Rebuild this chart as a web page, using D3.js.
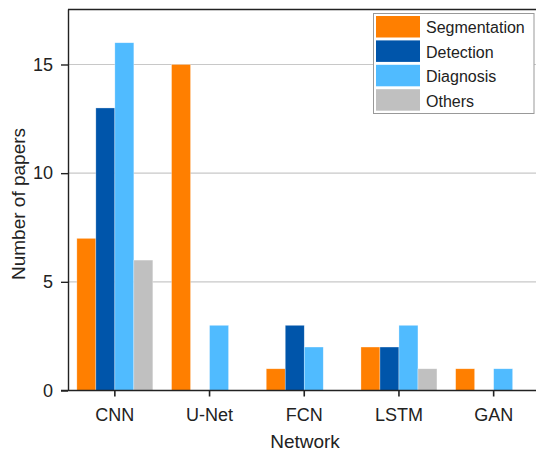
<!DOCTYPE html>
<html><head><meta charset="utf-8">
<script src="https://cdn.jsdelivr.net/npm/d3@7"></script>
<style>body{margin:0;background:#fff;overflow:hidden}text{font-family:"Liberation Sans",Arial,Helvetica,sans-serif;fill:#222}</style>
</head><body>
<svg id="c" width="536" height="451"></svg>
<script>
const categories = ["CNN","U-Net","FCN","LSTM","GAN"];
const seriesNames = ["Segmentation","Detection","Diagnosis","Others"];
const segmentation = [7,15,1,2,1];
const detection = [13,0,3,2,0];
const diagnosis = [16,3,2,3,1];
const others = [6,0,0,1,0];
const yTicks = [0,5,10,15];
const colors = ["#FF7F00","#0055AA","#50BBFF","#C0C0C0"];
const values = [segmentation, detection, diagnosis, others];

const svg = d3.select("#c");
const L=68,R=541,T=9.5,B=390.5;
const x = d3.scaleBand().domain(categories).range([L-0.5,R]).padding(0);
const xs = d3.scaleBand().domain(seriesNames).range([-38,38]).padding(0);
const y = d3.scaleLinear().domain([0,17.53]).range([B,T]);
const cx = c => x(c)+x.bandwidth()/2;

// gridlines
svg.append("g").selectAll("line").data(yTicks.filter(d=>d>0)).join("line")
  .attr("x1",L).attr("x2",R).attr("y1",d=>y(d)).attr("y2",d=>y(d))
  .attr("stroke","#c8c8c8").attr("stroke-width",1.2);

// bars
const g = svg.append("g");
seriesNames.forEach((s,si)=>{
  g.append("g").selectAll("rect").data(categories.map((c,i)=>({c,v:values[si][i]})).filter(d=>d.v>0)).join("rect")
    .attr("x",d=>cx(d.c)+xs(s)).attr("width",xs.bandwidth())
    .attr("y",d=>y(d.v)).attr("height",d=>y(0)-y(d.v))
    .attr("fill",colors[si]).attr("stroke","#fff").attr("stroke-opacity",0.5).attr("stroke-width",0.6);
});

// frame
svg.append("line").attr("x1",L).attr("x2",R).attr("y1",T).attr("y2",T).attr("stroke","#222").attr("stroke-width",1.4);

// axes
const yAxis = svg.append("g").attr("transform",`translate(${L},0)`)
  .call(d3.axisLeft(y).tickValues(yTicks).tickSize(7).tickPadding(8));
const xAxis = svg.append("g").attr("transform",`translate(0,${B})`)
  .call(d3.axisBottom(x).tickSize(6).tickPadding(12));
xAxis.select(".domain").attr("d",`M${L-7},0H${R}`);
yAxis.select(".domain").attr("d",`M0.5,${T}V${B}`);
[xAxis,yAxis].forEach(a=>{
  a.selectAll(".domain,line").attr("stroke","#222").attr("stroke-width",1.4);
  a.selectAll("text").attr("font-size",18).attr("fill","#222").style("font-family","Liberation Sans, Arial, sans-serif");
});
xAxis.selectAll(".tick line").attr("stroke-width",1.6);

svg.append("text").attr("x",305).attr("y",448).attr("text-anchor","middle").attr("font-size",19).text("Network");
svg.append("text").attr("transform",`translate(24.5,204) rotate(-90)`).attr("text-anchor","middle").attr("font-size",19).text("Number of papers");

// legend
const lg = svg.append("g");
lg.append("rect").attr("x",373.5).attr("y",13.5).attr("width",160.5).attr("height",100).attr("fill","#fff").attr("stroke","#999");
seriesNames.forEach((s,i)=>{
  lg.append("rect").attr("x",376).attr("y",16+i*24.4).attr("width",44).attr("height",21.5).attr("fill",colors[i]);
  lg.append("text").attr("x",426).attr("y",33+i*24.5).attr("font-size",16).text(s);
});
</script>
</body></html>
